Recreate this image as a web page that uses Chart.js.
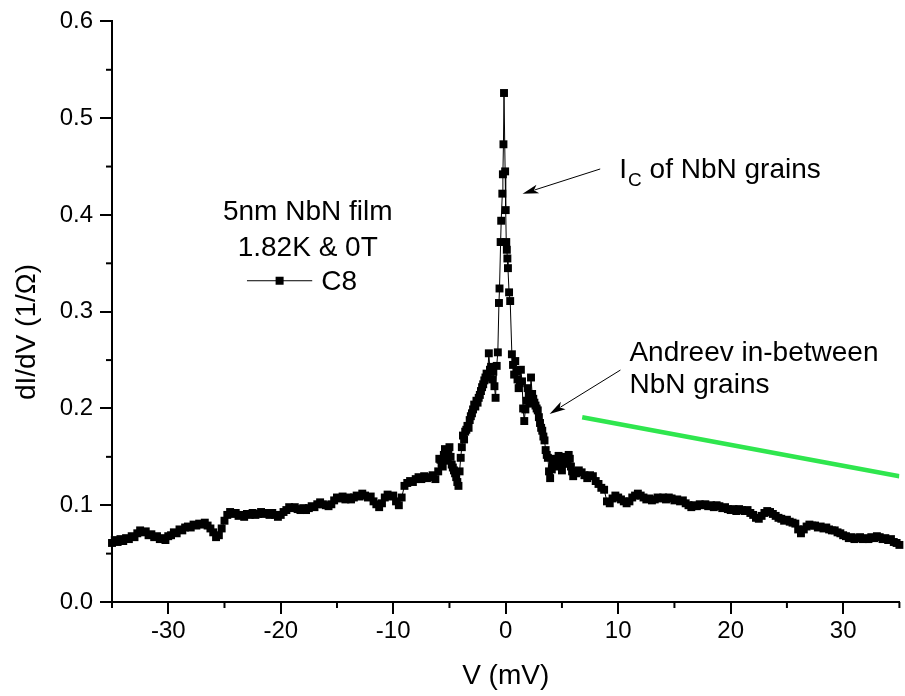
<!DOCTYPE html>
<html>
<head>
<meta charset="utf-8">
<script src="https://cdn.jsdelivr.net/npm/chart.js@4.4.1/dist/chart.umd.min.js"></script>
<style>
  html, body { margin: 0; padding: 0; background: #fff; }
  #wrap { width: 905px; height: 696px; }
</style>
</head>
<body>
<div id="wrap"><canvas id="chart" width="905" height="696"></canvas></div>
<script>
// ---------------- Data ----------------
// left wing, -35 .. -6.25 mV
const vLeft = [
  -35.0, -34.75, -34.5, -34.25, -34.0, -33.75, -33.5, -33.25, -33.0, -32.75,
  -32.5, -32.25, -32.0, -31.75, -31.5, -31.25, -31.0, -30.75, -30.5, -30.25,
  -30.0, -29.75, -29.5, -29.25, -29.0, -28.75, -28.5, -28.25, -28.0, -27.75,
  -27.5, -27.25, -27.0, -26.75, -26.5, -26.25, -26.0, -25.75, -25.5, -25.25,
  -25.0, -24.75, -24.5, -24.25, -24.0, -23.75, -23.5, -23.25, -23.0, -22.75,
  -22.5, -22.25, -22.0, -21.75, -21.5, -21.25, -21.0, -20.75, -20.5, -20.25,
  -20.0, -19.75, -19.5, -19.25, -19.0, -18.75, -18.5, -18.25, -18.0, -17.75,
  -17.5, -17.25, -17.0, -16.75, -16.5, -16.25, -16.0, -15.75, -15.5, -15.25,
  -15.0, -14.75, -14.5, -14.25, -14.0, -13.75, -13.5, -13.25, -13.0, -12.75,
  -12.5, -12.25, -12.0, -11.75, -11.5, -11.25, -11.0, -10.75, -10.5, -10.25,
  -10.0, -9.75, -9.5, -9.25, -9.0, -8.75, -8.5, -8.25, -8.0, -7.75,
  -7.5, -7.25, -7.0, -6.75, -6.5, -6.25
];
const gLeft = [
  0.061, 0.064, 0.062, 0.065, 0.063, 0.066, 0.065, 0.068, 0.067, 0.071,
  0.074, 0.072, 0.073, 0.069, 0.070, 0.067, 0.068, 0.065, 0.066, 0.064,
  0.068, 0.069, 0.072, 0.071, 0.075, 0.074, 0.077, 0.078, 0.077, 0.080,
  0.079, 0.081, 0.080, 0.082, 0.079, 0.076, 0.072, 0.067, 0.069, 0.076,
  0.084, 0.090, 0.093, 0.091, 0.092, 0.089, 0.090, 0.088, 0.091, 0.090,
  0.092, 0.090, 0.091, 0.093, 0.091, 0.092, 0.090, 0.092, 0.090, 0.088,
  0.090, 0.093, 0.095, 0.098, 0.097, 0.098, 0.096, 0.095, 0.097, 0.095,
  0.097, 0.099, 0.098, 0.101, 0.103, 0.101, 0.100, 0.099, 0.101, 0.105,
  0.108, 0.107, 0.109, 0.106, 0.108, 0.106, 0.108, 0.110, 0.109, 0.112,
  0.110, 0.108, 0.109, 0.104, 0.101, 0.098, 0.102, 0.108, 0.111, 0.109,
  0.110, 0.104, 0.100, 0.108, 0.120, 0.123, 0.125, 0.124, 0.127, 0.129,
  0.127, 0.130, 0.128, 0.129, 0.131, 0.127
];

// central peak, -6 .. 6 mV
const vCore = [
  -6.0, -5.9, -5.8, -5.7, -5.6, -5.5, -5.4, -5.3, -5.2, -5.1,
  -5.0, -4.9, -4.8, -4.7, -4.6, -4.5, -4.4, -4.3, -4.2, -4.1,
  -4.0, -3.9, -3.8, -3.7, -3.6, -3.5, -3.4, -3.3, -3.2, -3.1,
  -3.0, -2.9, -2.8, -2.7, -2.6, -2.5, -2.4, -2.3, -2.2, -2.1,
  -2.0, -1.9, -1.8, -1.7, -1.6, -1.5, -1.4, -1.3, -1.2, -1.1,
  -1.0, -0.9, -0.8, -0.7, -0.6, -0.55, -0.45, -0.4, -0.3, -0.25,
  -0.2, -0.15, -0.05, 0.0, 0.05, 0.1, 0.15, 0.2, 0.3, 0.4,
  0.55, 0.65, 0.75, 0.85, 0.95, 1.05, 1.15, 1.25, 1.35, 1.45,
  1.55, 1.65, 1.75, 1.85, 1.95, 2.05, 2.15, 2.25, 2.35, 2.45,
  2.55, 2.65, 2.75, 2.85, 2.95, 3.05, 3.15, 3.25, 3.35, 3.45,
  3.55, 3.65, 3.75, 3.85, 3.95, 4.1, 4.2, 4.3, 4.4, 4.5,
  4.6, 4.7, 4.8, 4.9, 5.0, 5.1, 5.2, 5.3, 5.4, 5.5,
  5.6, 5.7, 5.8, 5.9, 6.0
];
const gCore = [
  0.135, 0.148, 0.147, 0.143, 0.140, 0.152, 0.158, 0.150, 0.146, 0.155,
  0.160, 0.150, 0.142, 0.139, 0.136, 0.133, 0.129, 0.124, 0.120, 0.135,
  0.149, 0.160, 0.172, 0.168, 0.176, 0.178, 0.182, 0.180, 0.188, 0.192,
  0.195, 0.199, 0.204, 0.202, 0.208, 0.206, 0.211, 0.214, 0.218, 0.222,
  0.225, 0.229, 0.232, 0.236, 0.235, 0.257, 0.240, 0.243, 0.230, 0.238,
  0.223, 0.211, 0.244, 0.258, 0.309, 0.324, 0.372, 0.394, 0.422, 0.442,
  0.473, 0.526, 0.445, 0.405, 0.372, 0.364, 0.355, 0.345, 0.320, 0.311,
  0.256, 0.245, 0.235, 0.249, 0.238, 0.230, 0.221, 0.226, 0.240, 0.228,
  0.200, 0.187, 0.199, 0.208, 0.221, 0.214, 0.205, 0.232, 0.215, 0.210,
  0.206, 0.203, 0.200, 0.198, 0.191, 0.185, 0.180, 0.177, 0.171, 0.167,
  0.157, 0.152, 0.149, 0.135, 0.128, 0.137, 0.142, 0.148, 0.146, 0.140,
  0.142, 0.151, 0.149, 0.141, 0.136, 0.143, 0.146, 0.150, 0.143, 0.147,
  0.152, 0.148, 0.140, 0.135, 0.130
];

// right wing, 6.25 .. 35 mV
const vRight = [
  6.25, 6.5, 6.75, 7.0, 7.25, 7.5, 7.75, 8.0, 8.25, 8.5,
  8.75, 9.0, 9.25, 9.5, 9.75, 10.0, 10.25, 10.5, 10.75, 11.0,
  11.25, 11.5, 11.75, 12.0, 12.25, 12.5, 12.75, 13.0, 13.25, 13.5,
  13.75, 14.0, 14.25, 14.5, 14.75, 15.0, 15.25, 15.5, 15.75, 16.0,
  16.25, 16.5, 16.75, 17.0, 17.25, 17.5, 17.75, 18.0, 18.25, 18.5,
  18.75, 19.0, 19.25, 19.5, 19.75, 20.0, 20.25, 20.5, 20.75, 21.0,
  21.25, 21.5, 21.75, 22.0, 22.25, 22.5, 22.75, 23.0, 23.25, 23.5,
  23.75, 24.0, 24.25, 24.5, 24.75, 25.0, 25.25, 25.5, 25.75, 26.0,
  26.25, 26.5, 26.75, 27.0, 27.25, 27.5, 27.75, 28.0, 28.25, 28.5,
  28.75, 29.0, 29.25, 29.5, 29.75, 30.0, 30.25, 30.5, 30.75, 31.0,
  31.25, 31.5, 31.75, 32.0, 32.25, 32.5, 32.75, 33.0, 33.25, 33.5,
  33.75, 34.0, 34.25, 34.5, 34.75, 35.0
];
const gRight = [
  0.133, 0.136, 0.134, 0.131, 0.128, 0.131, 0.130, 0.125, 0.122, 0.118,
  0.116, 0.104, 0.102, 0.107, 0.110, 0.108, 0.106, 0.104, 0.102, 0.104,
  0.108, 0.110, 0.112, 0.110, 0.108, 0.106, 0.107, 0.105, 0.106, 0.108,
  0.107, 0.108, 0.106, 0.108, 0.107, 0.105, 0.106, 0.104, 0.105, 0.102,
  0.100, 0.098, 0.100, 0.099, 0.101, 0.100, 0.101, 0.099, 0.100, 0.098,
  0.100, 0.099, 0.097, 0.098, 0.096, 0.095, 0.096, 0.094, 0.096, 0.095,
  0.094, 0.095, 0.092, 0.090, 0.087, 0.086, 0.089, 0.092, 0.094, 0.093,
  0.091, 0.089, 0.087, 0.086, 0.084, 0.085, 0.083, 0.082, 0.081, 0.075,
  0.071, 0.075, 0.078, 0.080, 0.079, 0.079, 0.077, 0.078, 0.076, 0.077,
  0.075, 0.074, 0.074, 0.072, 0.071, 0.069, 0.068, 0.066, 0.067, 0.065,
  0.066, 0.067, 0.065, 0.066, 0.065, 0.067, 0.066, 0.068, 0.067, 0.065,
  0.066, 0.064, 0.065, 0.062, 0.061, 0.059
];

// green guide line (two ends)
const guideV = [6.8, 35];
const guideG = [0.191, 0.130];

const xMajor = [-30, -20, -10, 0, 10, 20, 30];
const xMinor = [-35, -25, -15, -5, 5, 15, 25, 35];
const yMajor = [0, 0.1, 0.2, 0.3, 0.4, 0.5, 0.6];
const yMinor = [0.05, 0.15, 0.25, 0.35, 0.45, 0.55];

const legendLines = ["5nm NbN film", "1.82K & 0T"];
const seriesName = "C8";

const FONT = "'Liberation Sans', Arial, Helvetica, sans-serif";

const voltage = vLeft.concat(vCore, vRight);
const conductance = gLeft.concat(gCore, gRight);

// ---------------- Extra drawing (ticks, titles, notes) ----------------
function arrow(ctx, x1, y1, x2, y2) {
  const a = Math.atan2(y2 - y1, x2 - x1);
  const c = Math.cos(a), s = Math.sin(a);
  const len = 16, half = 4.5;
  ctx.beginPath();
  ctx.moveTo(x1, y1);
  ctx.lineTo(x2 - c * len * 0.8, y2 - s * len * 0.8);
  ctx.lineWidth = 1;
  ctx.stroke();
  ctx.beginPath();
  ctx.moveTo(x2, y2);
  ctx.lineTo(x2 - c * len - s * half, y2 - s * len + c * half);
  ctx.lineTo(x2 - c * len * 0.75, y2 - s * len * 0.75);
  ctx.lineTo(x2 - c * len + s * half, y2 - s * len - c * half);
  ctx.closePath();
  ctx.fill();
}

const extras = {
  id: 'extras',
  afterDraw(chart) {
    const ctx = chart.ctx;
    const xs = chart.scales.x, ys = chart.scales.y;
    const px = v => xs.getPixelForValue(v);
    const py = g => ys.getPixelForValue(g);
    const area = chart.chartArea;

    ctx.save();
    ctx.strokeStyle = '#000';
    ctx.fillStyle = '#000';

    // minor ticks
    ctx.lineWidth = 2;
    xMinor.forEach(v => {
      ctx.beginPath();
      ctx.moveTo(px(v), area.bottom);
      ctx.lineTo(px(v), area.bottom + 6);
      ctx.stroke();
    });
    yMinor.forEach(g => {
      ctx.beginPath();
      ctx.moveTo(area.left - 6, py(g));
      ctx.lineTo(area.left, py(g));
      ctx.stroke();
    });

    // axis titles
    ctx.font = '28px ' + FONT;
    ctx.textAlign = 'center';
    ctx.textBaseline = 'middle';
    ctx.fillText('V (mV)', (area.left + area.right) / 2, 676);
    ctx.save();
    ctx.translate(27, 332);
    ctx.rotate(-Math.PI / 2);
    ctx.fillText('dI/dV (1/\u03A9)', 0, 0);
    ctx.restore();

    // legend block
    ctx.textBaseline = 'alphabetic';
    ctx.fillText(legendLines[0], px(-17.6), py(0.395));
    ctx.fillText(legendLines[1], px(-17.6), py(0.358));
    ctx.lineWidth = 1;
    ctx.beginPath();
    ctx.moveTo(px(-23.0), py(0.332));
    ctx.lineTo(px(-17.2), py(0.332));
    ctx.stroke();
    ctx.fillRect(px(-20.1) - 4, py(0.332) - 4, 8, 8);
    ctx.textAlign = 'left';
    ctx.fillText(seriesName, px(-16.4), py(0.322));

    // annotations
    ctx.fillText('I', px(10.1), py(0.438));
    const iw = ctx.measureText('I').width;
    ctx.font = '19px ' + FONT;
    ctx.fillText('C', px(10.1) + iw + 1, py(0.438) + 8);
    const cw = ctx.measureText('C').width;
    ctx.font = '28px ' + FONT;
    ctx.fillText(' of NbN grains', px(10.1) + iw + cw + 1, py(0.438));
    arrow(ctx, px(8.4), py(0.4475), px(1.5), py(0.4218));

    ctx.fillText('Andreev in-between', px(11.0), py(0.249));
    ctx.fillText('NbN grains', px(11.0), py(0.216));
    arrow(ctx, px(10.2), py(0.2397), px(3.9), py(0.1944));

    ctx.restore();
  }
};

// ---------------- Chart ----------------
Chart.defaults.font.family = FONT;
Chart.defaults.color = '#000';

const ctx = document.getElementById('chart').getContext('2d');
new Chart(ctx, {
  type: 'scatter',
  data: {
    datasets: [
      {
        label: seriesName,
        data: voltage.map((v, i) => ({ x: v, y: conductance[i] })),
        showLine: true,
        borderColor: '#000',
        borderWidth: 1,
        pointStyle: 'rect',
        pointRadius: 5.6,
        pointBorderWidth: 0,
        pointBackgroundColor: '#000',
        clip: false
      },
      {
        label: 'guide',
        data: guideV.map((v, i) => ({ x: v, y: guideG[i] })),
        showLine: true,
        borderColor: '#2fe64e',
        borderWidth: 4.5,
        pointRadius: 0
      }
    ]
  },
  options: {
    responsive: false,
    animation: false,
    layout: { padding: { top: 19, right: 2, left: 0, bottom: 0 } },
    plugins: { legend: { display: false }, tooltip: { enabled: false } },
    scales: {
      x: {
        type: 'linear',
        min: -35, max: 35,
        afterBuildTicks: s => { s.ticks = xMajor.map(v => ({ value: v })); },
        afterFit: s => { s.height = 94; },
        ticks: { font: { size: 24 }, padding: 3, maxRotation: 0, callback: v => String(v) },
        grid: { drawOnChartArea: false, drawTicks: true, tickLength: 12, color: '#000', lineWidth: 2 },
        border: { display: true, color: '#000', width: 2 }
      },
      y: {
        type: 'linear',
        min: 0, max: 0.6,
        afterBuildTicks: s => { s.ticks = yMajor.map(v => ({ value: v })); },
        afterFit: s => { s.width = 112; },
        ticks: { font: { size: 24 }, padding: 7, callback: v => v.toFixed(1) },
        grid: { drawOnChartArea: false, drawTicks: true, tickLength: 12, color: '#000', lineWidth: 2 },
        border: { display: true, color: '#000', width: 2 }
      }
    }
  },
  plugins: [extras]
});
</script>
</body>
</html>
